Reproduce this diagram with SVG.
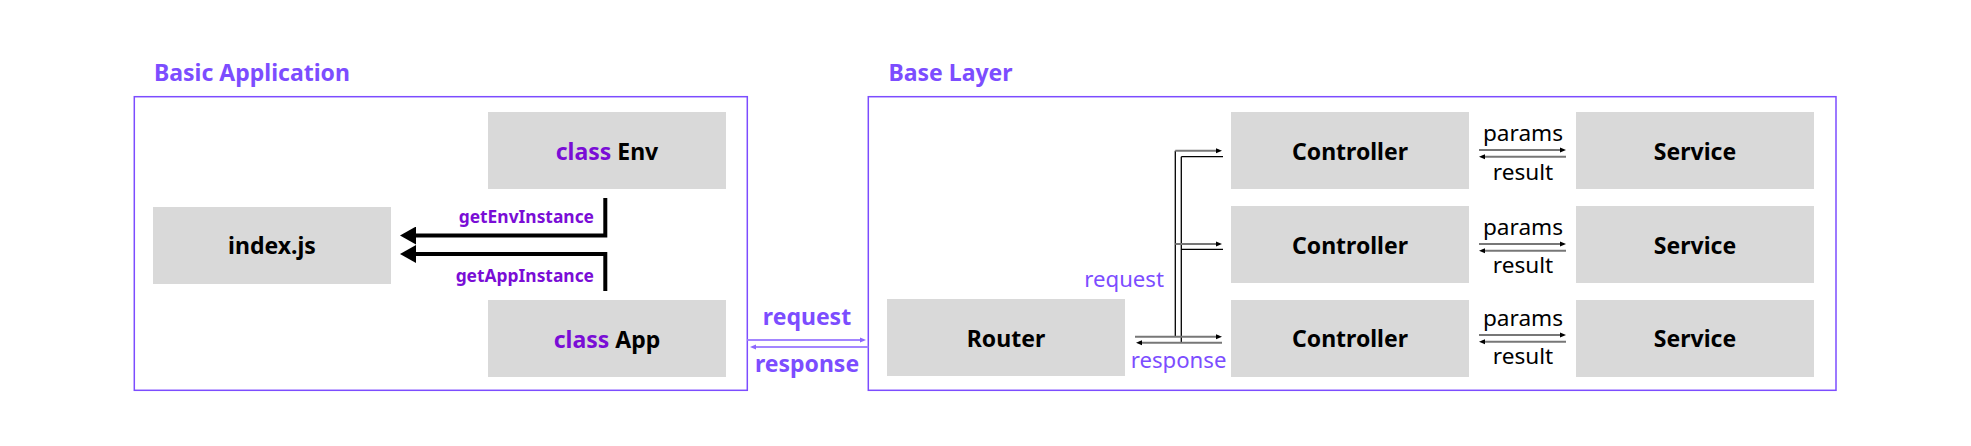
<svg xmlns="http://www.w3.org/2000/svg" width="1971" height="446" viewBox="0 0 1971 446">
<style>
  .title { font-family: "Noto Sans", "Open Sans", sans-serif; font-weight: 700; font-size: 23px; fill: #7c4dff; }
  .frame { fill: none; stroke: #7c4dff; stroke-width: 1.5; }
  .box { fill: #d9d9d9; }
  .lbl { font-family: "Noto Sans", "Open Sans", sans-serif; font-weight: 700; font-size: 23px; fill: #000; text-anchor: middle; }
  .kw { fill: #7a0dd6; }
  .call { font-family: "Noto Sans", "Open Sans", sans-serif; font-weight: 700; font-size: 17.4px; fill: #7a0dd6; text-anchor: end; }
  .io { font-family: "Noto Sans", "Open Sans", sans-serif; font-weight: 700; font-size: 23px; fill: #7c4dff; text-anchor: middle; }
  .io2 { font-family: "Noto Sans", "Open Sans", sans-serif; font-weight: 400; font-size: 22.2px; fill: #7c4dff; }
  .pr { font-family: "Noto Sans", "Open Sans", sans-serif; font-weight: 400; font-size: 22.6px; fill: #000; text-anchor: middle; }
  .thick { fill: none; stroke: #000; stroke-width: 4; }
  .gray { fill: none; stroke: #777; stroke-width: 2; }
  .thin { fill: none; stroke: #000; stroke-width: 1.3; }
  .pl { fill: none; stroke: #a385ff; stroke-width: 2; }
</style>
<defs>
  <marker id="big" markerUnits="userSpaceOnUse" markerWidth="16" markerHeight="18" viewBox="0 0 16 18" refX="4" refY="9" orient="auto">
    <path d="M0,0 L16,9 L0,18 z" fill="#000"/>
  </marker>
  <marker id="sm" markerUnits="userSpaceOnUse" markerWidth="6" markerHeight="6" viewBox="0 0 6 6" refX="3" refY="3" orient="auto">
    <path d="M0,0.5 L6,3 L0,5.5 z" fill="#000"/>
  </marker>
  <marker id="pm" markerUnits="userSpaceOnUse" markerWidth="6" markerHeight="6" viewBox="0 0 6 6" refX="3" refY="3" orient="auto">
    <path d="M0,0.5 L6,3 L0,5.5 z" fill="#8c66ff"/>
  </marker>
</defs>
<rect width="1971" height="446" fill="#fff"/>

<g id="basic-application">
  <text class="title" x="154" y="81">Basic Application</text>
  <rect class="frame" x="134.3" y="96.7" width="613" height="293.6"/>
</g>
<g id="base-layer">
  <text class="title" x="888.5" y="81">Base Layer</text>
  <rect class="frame" x="868.3" y="96.7" width="967.7" height="293.6"/>
</g>

<g id="env">
  <rect class="box" x="488" y="112" width="238" height="77"/>
  <text class="lbl" x="607" y="160"><tspan class="kw">class</tspan> Env</text>
</g>
<g id="index">
  <rect class="box" x="153" y="207" width="238" height="77"/>
  <text class="lbl" x="272" y="254">index.js</text>
</g>
<g id="app">
  <rect class="box" x="488" y="300" width="238" height="77"/>
  <text class="lbl" x="607" y="347.7"><tspan class="kw">class</tspan> App</text>
</g>
<g id="router">
  <rect class="box" x="887" y="299" width="238" height="77"/>
  <text class="lbl" x="1006" y="346.7">Router</text>
</g>
<g id="controller-1">
  <rect class="box" x="1231" y="112" width="238" height="77"/>
  <text class="lbl" x="1350" y="160">Controller</text>
</g>
<g id="controller-2">
  <rect class="box" x="1231" y="206" width="238" height="77"/>
  <text class="lbl" x="1350" y="253.5">Controller</text>
</g>
<g id="controller-3">
  <rect class="box" x="1231" y="300" width="238" height="77"/>
  <text class="lbl" x="1350" y="347.3">Controller</text>
</g>
<g id="service-1">
  <rect class="box" x="1576" y="112" width="238" height="77"/>
  <text class="lbl" x="1695" y="160">Service</text>
</g>
<g id="service-2">
  <rect class="box" x="1576" y="206" width="238" height="77"/>
  <text class="lbl" x="1695" y="253.5">Service</text>
</g>
<g id="service-3">
  <rect class="box" x="1576" y="300" width="238" height="77"/>
  <text class="lbl" x="1695" y="347.3">Service</text>
</g>

<g id="connectors">
  <path class="thick" d="M605.3,198 V235.5 H412" marker-end="url(#big)"/>
  <path class="thick" d="M605.3,291 V254 H412" marker-end="url(#big)"/>
  <text class="call" x="594" y="223">getEnvInstance</text>
  <text class="call" x="594" y="281.5">getAppInstance</text>

  <path class="pl" d="M747.3,340 H863" marker-end="url(#pm)"/>
  <path class="pl" d="M868.3,347 H753" marker-end="url(#pm)"/>
  <text class="io" x="807" y="325">request</text>
  <text class="io" x="807" y="371.5">response</text>

  <path class="thin" d="M1175.3,150.7 V336.7"/>
  <path class="thin" d="M1181.3,156.7 V342.7"/>
  <path class="gray" d="M1135,336.7 H1219" marker-end="url(#sm)"/>
  <path class="gray" d="M1175.3,150.7 H1219" marker-end="url(#sm)"/>
  <path class="gray" d="M1175.3,244 H1219" marker-end="url(#sm)"/>
  <path class="thin" d="M1223,156.7 H1181.3"/>
  <path class="thin" d="M1223,249.3 H1181.3"/>
  <path class="gray" d="M1222,342.7 H1139" marker-end="url(#sm)"/>
  <text class="io2" x="1164" y="286.7" text-anchor="end">request</text>
  <text class="io2" x="1130.7" y="368.3">response</text>

  <path class="gray" d="M1479,150 H1563" marker-end="url(#sm)"/>
  <path class="gray" d="M1566,156.7 H1482" marker-end="url(#sm)"/>
  <path class="gray" d="M1479,244 H1563" marker-end="url(#sm)"/>
  <path class="gray" d="M1566,250.7 H1482" marker-end="url(#sm)"/>
  <path class="gray" d="M1479,335 H1563" marker-end="url(#sm)"/>
  <path class="gray" d="M1566,341.7 H1482" marker-end="url(#sm)"/>
  <text class="pr" x="1523" y="140.7">params</text>
  <text class="pr" x="1523" y="180">result</text>
  <text class="pr" x="1523" y="234.7">params</text>
  <text class="pr" x="1523" y="273.3">result</text>
  <text class="pr" x="1523" y="325.7">params</text>
  <text class="pr" x="1523" y="364.3">result</text>
</g>
</svg>
